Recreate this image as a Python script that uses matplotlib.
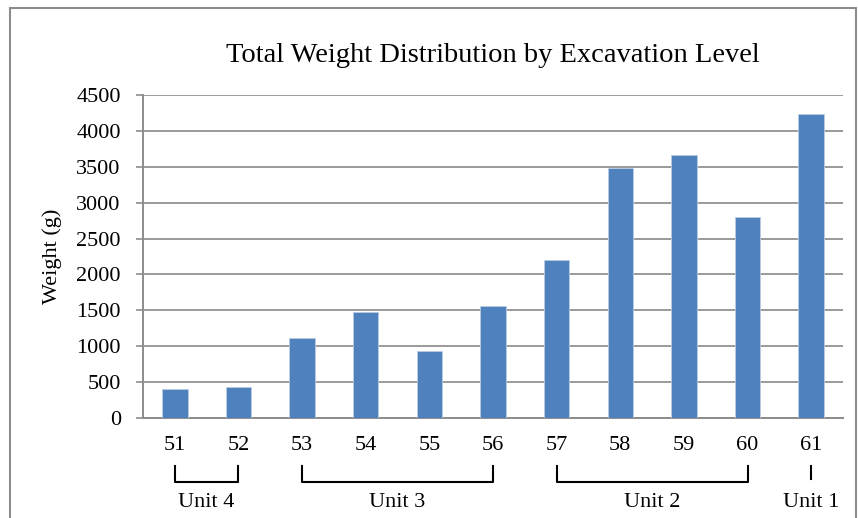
import matplotlib.pyplot as plt
from matplotlib.patches import Rectangle
import matplotlib.transforms as transforms
import numpy as np

levels = ['51', '52', '53', '54', '55', '56', '57', '58', '59', '60', '61']
weights = [410, 430, 1115, 1480, 930, 1560, 2200, 3480, 3670, 2800, 4230]
units = ['Unit 4', 'Unit 3', 'Unit 2', 'Unit 1']
unit_spans = [(0, 1), (2, 5), (6, 9), (10, 10)]
yticks = [0, 500, 1000, 1500, 2000, 2500, 3000, 3500, 4000, 4500]

plt.rcParams['font.family'] = ['Liberation Serif', 'DejaVu Serif']

fig = plt.figure(figsize=(8.58, 5.18), dpi=100)
ax = fig.add_axes([0.1667, 0.193, 0.8158, 0.6236])

# outer frame like the spreadsheet chart area
fig.patches.append(Rectangle((10 / 858, -0.05), 846 / 858, 1.05 - 8 / 518,
                             transform=fig.transFigure, fill=False,
                             edgecolor='#8c8c8c', linewidth=1.5))

x = np.arange(len(levels))
ax.bar(x, weights, width=0.4, color='#4F81BD', edgecolor='#b8cce4',
       linewidth=0.6, zorder=3)

ax.set_xlim(-0.5, len(levels) - 0.5)
ax.set_ylim(0, 4500)
ax.set_yticks(yticks)
ax.set_xticks(x)
ax.set_xticklabels(levels)
ax.grid(axis='y', color='#9a9a9a', linewidth=1.4, zorder=0)

for side in ['top', 'right']:
    ax.spines[side].set_visible(False)
for side in ['left', 'bottom']:
    ax.spines[side].set_color('#8c8c8c')
    ax.spines[side].set_linewidth(1.4)

ax.tick_params(axis='y', length=5, width=1.2, color='#8c8c8c', pad=11, labelsize=16)
ax.tick_params(axis='x', length=0, pad=13, labelsize=16)

ax.set_ylabel('Weight (g)', fontsize=16, labelpad=10)
ax.set_title('Total Weight Distribution by Excavation Level', fontsize=20.5, pad=24)

# unit brackets under the level labels
trans = transforms.blended_transform_factory(ax.transData, ax.transAxes)
y_top, y_bot, y_txt = -0.149, -0.198, -0.262
for name, (a, b) in zip(units, unit_spans):
    if a == b:
        ax.plot([a, a], [y_top, y_bot + 0.01], color='black', linewidth=1.5,
                transform=trans, clip_on=False)
    else:
        ax.plot([a, a, b, b], [y_top, y_bot, y_bot, y_top], color='black',
                linewidth=1.5, transform=trans, clip_on=False)
    ax.text((a + b) / 2, y_txt, name, transform=trans, ha='center', va='center',
            fontsize=16)

fig.savefig('out.png', dpi=100)
